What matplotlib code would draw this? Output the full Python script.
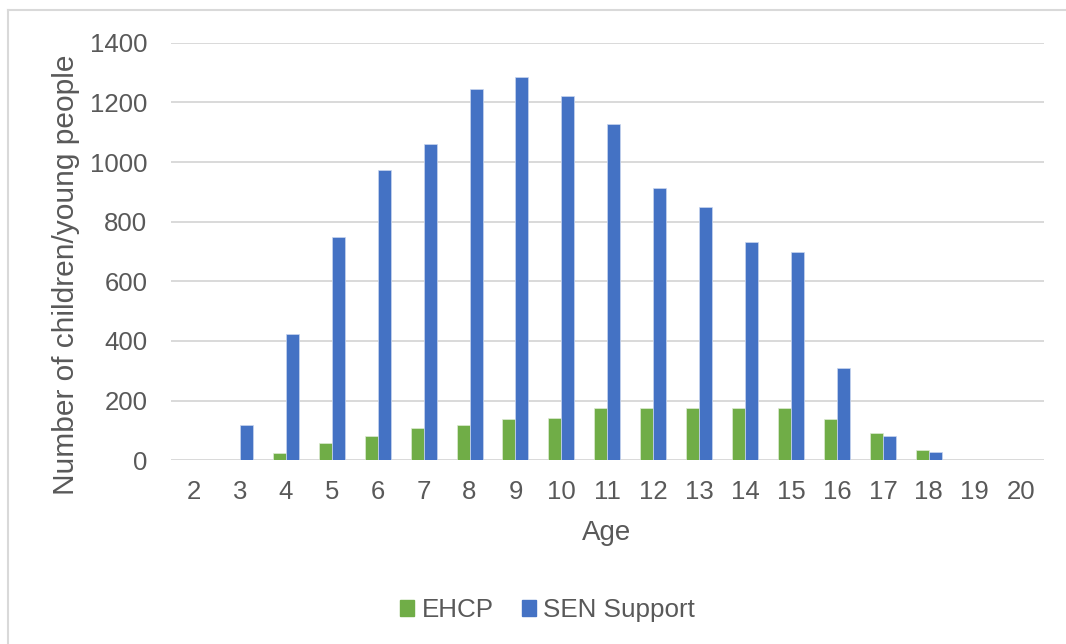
import numpy as np
import matplotlib
matplotlib.use("Agg")
import matplotlib.pyplot as plt
from matplotlib.patches import Patch
from matplotlib.lines import Line2D

# counts by age
ages = [str(a) for a in range(2, 21)]
ehcp = [0, 0, 23, 57, 80, 109, 118, 137, 143, 175, 175, 175, 175, 175, 137, 90, 36, 0, 0]
sen_support = [0, 117, 423, 750, 973, 1059, 1245, 1284, 1222, 1126, 912, 849, 731, 698, 311, 80, 27, 0, 0]

green = "#70AD47"
blue = "#4472C4"
grey_text = "#595959"
grid_col = "#D9D9D9"

plt.rcParams["font.family"] = ["Liberation Sans", "DejaVu Sans"]
plt.rcParams["font.size"] = 18.5

fig = plt.figure(figsize=(10.66, 6.44), dpi=100)
ax = fig.add_axes([171 / 1066, 1 - 460.3 / 644, 872.7 / 1066, 417.6 / 644])

x = np.arange(len(ages))
w = 0.283
ax.bar(x - w / 2, ehcp, w, color=green, edgecolor="#DDEBD3", linewidth=0.5, zorder=3)
ax.bar(x + w / 2, sen_support, w, color=blue, edgecolor="#C9D6EE", linewidth=0.5, zorder=3)

ax.set_xlim(-0.5, len(ages) - 0.5)
ax.set_ylim(0, 1400)
ax.set_yticks(range(0, 1401, 200))
ax.set_xticks(x)
ax.set_xticklabels(ages)
ax.yaxis.grid(True, color=grid_col, linewidth=1.4, zorder=0)
ax.set_axisbelow(True)
for s in ax.spines.values():
    s.set_visible(False)
ax.tick_params(axis="both", length=0, colors=grey_text, labelsize=18.5)
ax.tick_params(axis="x", pad=14)
ax.tick_params(axis="y", pad=17)

ax.set_ylabel("Number of children/young people", color=grey_text, fontsize=21.5)
ax.yaxis.set_label_coords(-0.1047, 0.444)
ax.set_xlabel("Age", color=grey_text, fontsize=20)
ax.xaxis.set_label_coords(0.4996, -0.143)

handles = [Patch(facecolor=green, edgecolor=green), Patch(facecolor=blue, edgecolor=blue)]
fig.legend(handles, ["EHCP", "SEN Support"], loc="center", bbox_to_anchor=(547.5 / 1066, 1 - 610 / 644),
           ncol=2, frameon=False, fontsize=18.7, labelcolor=grey_text,
           handlelength=0.54, handleheight=0.54, handletextpad=0.28, columnspacing=1.09)

# outer chart frame, only left and top edges show
fig.add_artist(Line2D([8.3 / 1066, 8.3 / 1066], [0, 1 - 9.5 / 644], color=grid_col, linewidth=1.5))
fig.add_artist(Line2D([8.3 / 1066, 1], [1 - 9.5 / 644, 1 - 9.5 / 644], color=grid_col, linewidth=1.5))

fig.savefig("out.png", dpi=100, facecolor="white")
